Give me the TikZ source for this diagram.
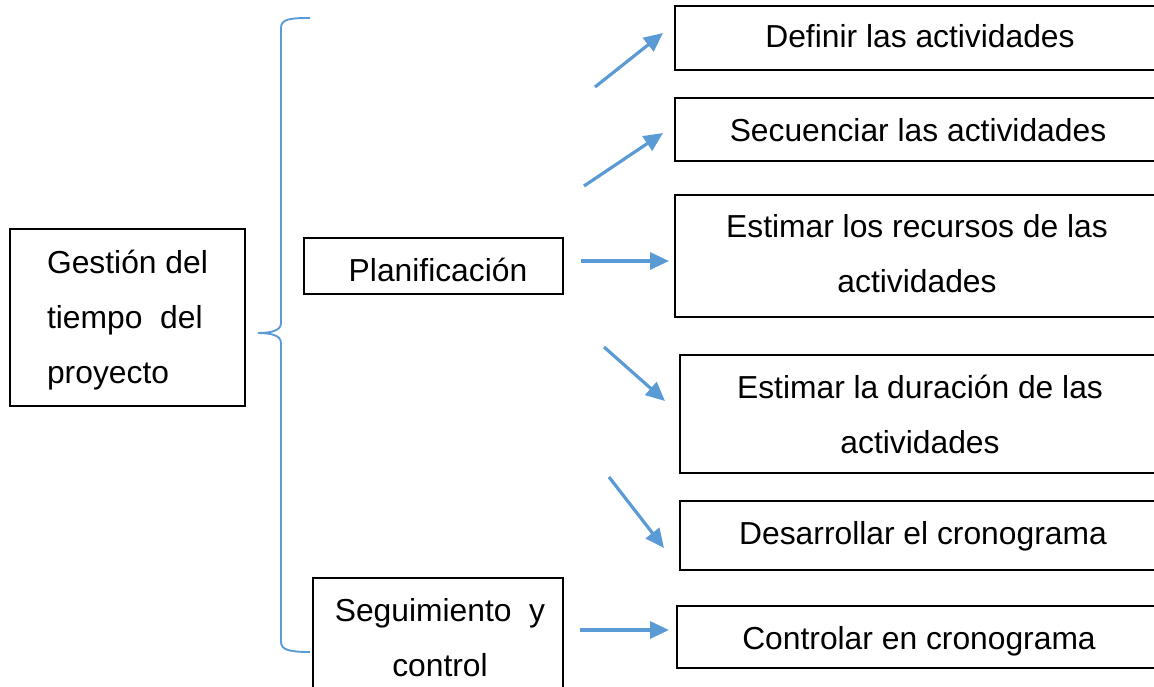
\documentclass[tikz,border=0pt]{standalone}
\usepackage{fontspec}
\setmainfont{Liberation Sans}
\usetikzlibrary{arrows.meta}
\definecolor{arrblue}{HTML}{5B9BD5}
\begin{document}
\begin{tikzpicture}[x=1pt,y=-1pt,
  box/.style={draw=black,line width=2.2pt,inner sep=0pt,align=center,font=\fontsize{31.8}{55}\selectfont},
  txt/.style={font=\fontsize{31.8}{55}\selectfont,align=center},
  arr/.style={draw=arrblue,line width=3.2pt,-{Triangle[length=19pt,width=17pt]}},
  brace/.style={draw=arrblue,line width=1.9pt}]
\useasboundingbox (0,0) rectangle (1154,687);
\clip (0,0) rectangle (1154,687);
\node[box,minimum width=235,minimum height=177] (gest) at (127.5,317.5) {\begin{tabular}{@{}l@{}}Gestión del\\tiempo\ \ del\\ proyecto\end{tabular}};
\node[box,minimum width=259,minimum height=56] (plan) at (433.5,266) {};
\node[txt] (plant) at (438,270) {Planificación};
\node[box,minimum width=250,minimum height=130] (seg) at (438,643) {};
\node[txt] (segt) at (440,638) {Seguimiento\ \ y\\control};
\node[box,minimum width=482,minimum height=64] (def) at (916,38) {};
\node[txt] (deft) at (920,36) {Definir las actividades};
\node[box,minimum width=482,minimum height=63] (sec) at (916,129.5) {};
\node[txt] (sect) at (918,130) {Secuenciar las actividades};
\node[box,minimum width=482,minimum height=122] (rec) at (916,256) {};
\node[txt] (rect) at (917,254) {Estimar los recursos de las\\actividades};
\node[box,minimum width=477,minimum height=118] (dur) at (918.5,414) {};
\node[txt] (durt) at (920,414) {Estimar la duración de las\\actividades};
\node[box,minimum width=477,minimum height=69] (cron) at (918.5,535.5) {};
\node[txt] (cront) at (923,536) {Desarrollar el cronograma};
\node[box,minimum width=480,minimum height=62] (ctrl) at (917,637) {};
\node[txt] (ctrlt) at (919,641) {Controlar en cronograma};
\coordinate (a1) at (595,87);
\coordinate (a2) at (584,186);
\coordinate (a3) at (581,261);
\coordinate (a4) at (604,347);
\coordinate (a5) at (609,477);
\coordinate (a6) at (580,630);
\coordinate (e1) at (663,33);
\coordinate (e2) at (663,133);
\coordinate (e3) at (669,261);
\coordinate (e4) at (665,401);
\coordinate (e5) at (664,548);
\coordinate (e6) at (669,630);
\draw[arr] (a1) -- (e1);
\draw[arr] (a2) -- (e2);
\draw[arr] (a3) -- (e3);
\draw[arr] (a4) -- (e4);
\draw[arr] (a5) -- (e5);
\draw[arr] (a6) -- (e6);
\draw[brace] (310,18) .. controls (290,18) and (281,19) .. (281,28) -- (281,323) .. controls (281,331) and (270,333) .. (258,333) .. controls (270,333) and (281,335) .. (281,343) -- (281,642) .. controls (281,650) and (290,652) .. (310,652);
\end{tikzpicture}
\end{document}
